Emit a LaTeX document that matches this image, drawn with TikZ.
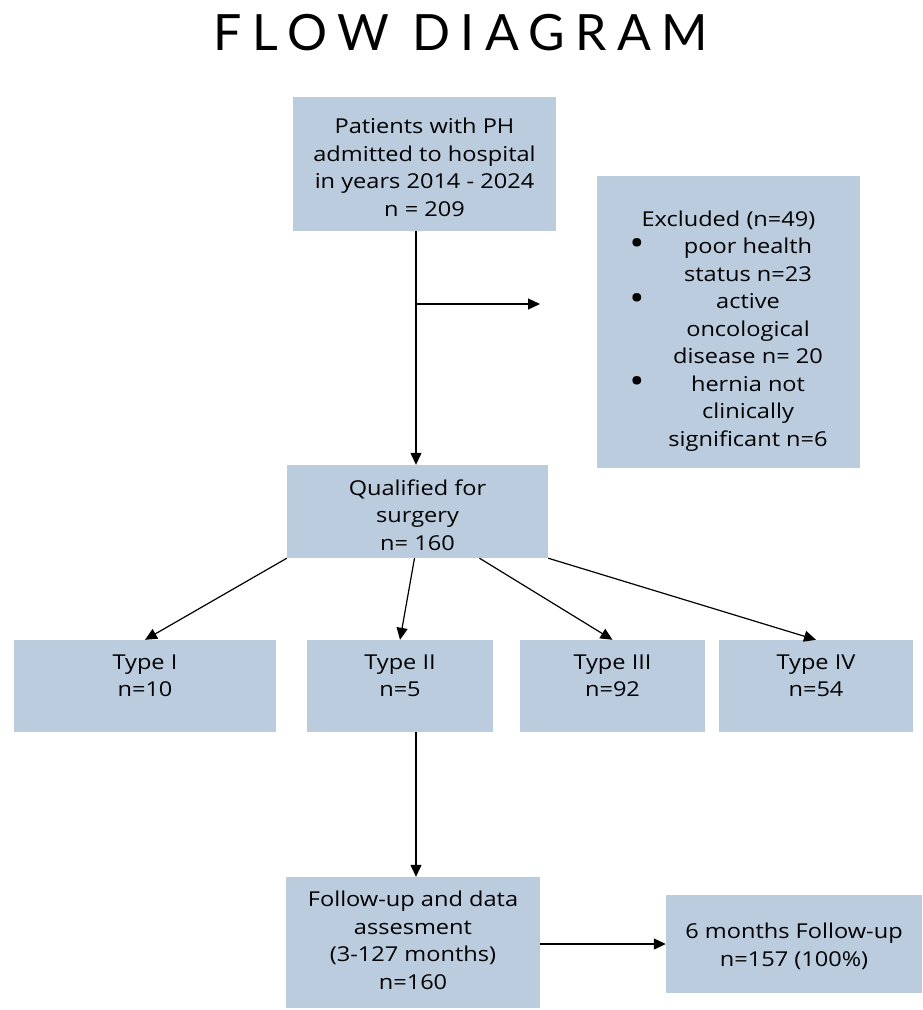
\documentclass[tikz,border=0pt]{standalone}
\usepackage{fontspec}
\setmainfont[FakeStretch=1.15]{Open Sans}
\newfontfamily\titlefont[LetterSpace=21]{Lato}
\usetikzlibrary{arrows.meta,calc}
\definecolor{boxblue}{RGB}{187,204,223}
\newcommand{\shtext}[2]{\raisebox{#1}[\height][\depth]{\begin{tabular}{@{}c@{}}#2\end{tabular}}}
\newcommand{\bigdot}{\raisebox{-2pt}{\scalebox{1.7}{\textbullet}}}
\begin{document}
\begin{tikzpicture}[x=1pt,y=-1pt,
  box/.style={rectangle, fill=boxblue, draw=none, align=center, inner sep=0pt,
    font=\fontsize{20.5}{27.5}\selectfont},
  arr/.style={draw=black, line width=1.2pt, -{Triangle[length=12pt,width=11pt]}}]
\fill[white] (0,0) rectangle (923,1010);
\useasboundingbox (0,0) rectangle (923,1010);

\node[font=\titlefont\fontsize{50}{50}\selectfont] (title) at (461,33) {FLOW DIAGRAM};

\node[box, minimum width=263pt, minimum height=134pt] (A) at (424.5,164)
  {\shtext{-5.5pt}{Patients with PH\\admitted to hospital\\in years 2014 - 2024\\n = 209}};

\node[box, minimum width=263pt, minimum height=292pt] (excl) at (728.5,322)
  {\raisebox{-8.5pt}[\height][\depth]{%
   \begin{tabular}{@{}c@{\hspace{24pt}}c@{}}
   \multicolumn{2}{c}{Excluded (n=49)}\\
   \bigdot & poor health\\
               & status n=23\\
   \bigdot & active\\
               & oncological\\
               & disease n= 20\\
   \bigdot & hernia not\\
               & clinically\\
               & significant n=6
   \end{tabular}}};

\node[box, minimum width=261pt, minimum height=93pt] (qual) at (417.5,511.5)
  {\shtext{-5.5pt}{Qualified for\\surgery\\n= 160}};

\node[box, minimum width=262pt, minimum height=92pt] (t1) at (145,686) {\shtext{8.5pt}{Type I\\n=10}};
\node[box, minimum width=186pt, minimum height=92pt] (t2) at (400,686) {\shtext{8.5pt}{Type II\\n=5}};
\node[box, minimum width=185pt, minimum height=92pt] (t3) at (612.5,686) {\shtext{8.5pt}{Type III\\n=92}};
\node[box, minimum width=194pt, minimum height=92pt] (t4) at (816,686) {\shtext{8.5pt}{Type IV\\n=54}};

\node[box, minimum width=254pt, minimum height=131pt] (fu) at (413,942.5)
  {\shtext{0pt}{Follow-up and data\\assesment\\(3-127 months)\\n=160}};
\node[box, minimum width=256pt, minimum height=98pt] (six) at (794,944)
  {\shtext{-3pt}{6 months Follow-up\\n=157 (100\%)}};

\coordinate (bend) at (540,304);

\draw[arr] ([xshift=-8.5pt]A.south) -- ([xshift=-1.5pt]qual.north);
\draw[arr] ([xshift=-8.5pt]A.south |- bend) -- (bend);
\draw[arr] (qual.south west) -- (t1.north);
\draw[arr] ([xshift=-3pt]qual.south) -- (t2.north);
\draw[arr] ([xshift=62pt]qual.south) -- (t3.north);
\draw[arr] (qual.south east) -- (t4.north);
\draw[arr] ([xshift=16pt]t2.south) -- ([xshift=3pt]fu.north);
\draw[arr] ([yshift=-1.5pt]fu.east) -- (six.west);
\end{tikzpicture}
\end{document}
